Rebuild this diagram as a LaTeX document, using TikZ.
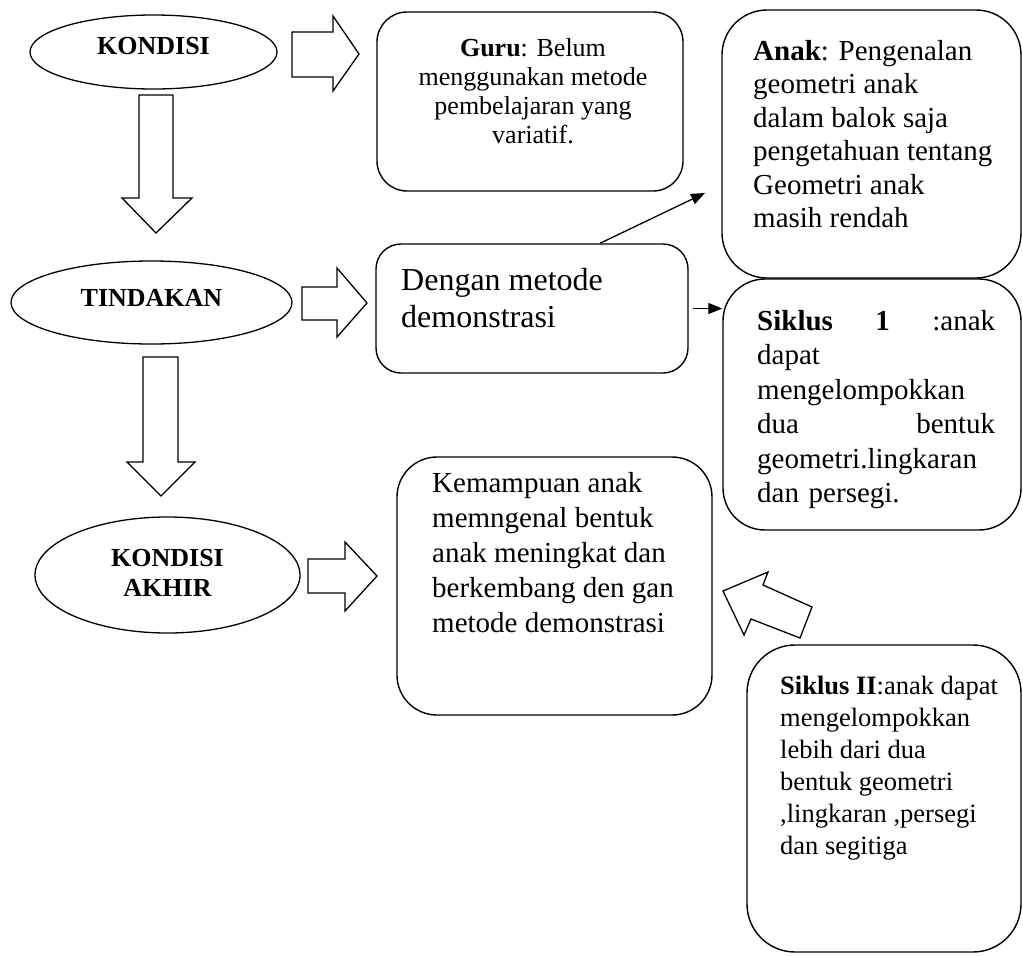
\documentclass[tikz,border=0pt]{standalone}
\usepackage{fontspec}
\setmainfont{Liberation Serif}
\usetikzlibrary{shapes.geometric,arrows.meta}
\tikzset{
  ell/.style={draw, ellipse, line width=1.3pt, inner sep=0pt},
  rbox/.style={draw, line width=1.4pt, inner sep=0pt},
  blk/.style={draw, line width=1.3pt, line join=miter, fill=white},
  thin/.style={line width=1.3pt, -{Triangle[length=14pt,width=11pt]}},
  lbl/.style={inner sep=0pt, font=\bfseries\fontsize{26}{30}\selectfont, align=center},
  txt/.style={inner sep=0pt, align=left, anchor=north west},
}
\begin{document}
\begin{tikzpicture}[x=1pt,y=-1pt]
\useasboundingbox (0,0) rectangle (1023,956);
% ellipses
\node[ell, minimum width=247pt, minimum height=74pt] (k1) at (153.5,52) {};
\node[lbl] (k1t) at (153.5,46) {KONDISI};
\node[ell, minimum width=281pt, minimum height=83pt] (tin) at (151.5,302.5) {};
\node[lbl] (tint) at (151.5,298) {TINDAKAN};
\node[ell, minimum width=265pt, minimum height=116pt] (k2) at (167.5,575) {};
\node[lbl] (k2t) at (167.5,573) {KONDISI\\AKHIR};
% block arrows
\draw[blk] (139,95)--(173,95)--(173,198)--(192,198)--(156,233)--(122,198)--(139,198)--cycle;
\draw[blk] (143,357)--(178,357)--(178,462)--(195,462)--(161,496)--(127,462)--(143,462)--cycle;
\draw[blk] (292,32)--(333,32)--(333,16)--(359,54)--(333,91)--(333,77)--(292,77)--cycle;
\draw[blk] (302,287)--(337,287)--(337,268)--(367,303)--(337,337)--(337,320)--(302,320)--cycle;
\draw[blk] (308,559)--(345,559)--(345,542)--(377,576)--(345,611)--(345,593)--(308,593)--cycle;
\draw[blk] (723,591)--(768,572)--(763,585)--(812,607)--(800,638)--(751,619)--(744,635)--cycle;
% boxes
\node[rbox, rounded corners=30pt, minimum width=306pt, minimum height=179pt] (guru) at (530,101.5) {};
\node[rbox, rounded corners=45pt, minimum width=299pt, minimum height=268pt] (anak) at (871.5,144) {};
\node[rbox, rounded corners=25pt, minimum width=312pt, minimum height=129pt] (deng) at (532,308.5) {};
\node[rbox, rounded corners=42pt, minimum width=298pt, minimum height=251pt] (sik1) at (872,404.5) {};
\node[rbox, rounded corners=40pt, minimum width=315pt, minimum height=258pt] (kem) at (554.5,586) {};
\node[rbox, rounded corners=48pt, minimum width=274pt, minimum height=307pt] (sik2) at (884,798.5) {};
% texts
\node[inner sep=0pt, align=center, anchor=north, font=\fontsize{26}{29}\selectfont] (gurut) at (533,38)
 {\textbf{Guru}: Belum\\menggunakan metode\\pembelajaran yang\\variatif.};
\node[txt, font=\fontsize{29}{33.5}\selectfont] (anakt) at (753,40)
 {\textbf{Anak}: Pengenalan\\geometri anak\\dalam balok saja\\pengetahuan tentang\\Geometri anak\\masih rendah};
\node[txt, font=\fontsize{32}{37}\selectfont] (dengt) at (401,268)
 {Dengan metode\\demonstrasi};
\node[txt, text width=238pt, font=\fontsize{29}{34.5}\selectfont] (sik1t) at (757,310)
 {\textbf{Siklus}\hspace{\fill}\textbf{1}\hspace{\fill}:anak\\dapat\\mengelompokkan\\dua\hspace{\fill}bentuk\\geometri.lingkaran\\dan persegi.};
\node[txt, font=\fontsize{29}{35}\selectfont] (kemt) at (432,472)
 {Kemampuan anak\\memngenal bentuk\\anak meningkat dan\\berkembang den gan\\metode demonstrasi};
\node[txt, font=\fontsize{26.5}{32}\selectfont] (sik2t) at (780,676)
 {\textbf{Siklus II}:anak dapat\\mengelompokkan\\lebih dari dua\\bentuk geometri\\,lingkaran ,persegi\\dan segitiga};
% thin arrows
\coordinate (a1) at (705,193);
\draw[thin] ([xshift=68pt]deng.north) -- (a1);
\draw[thin, shorten <=4pt] (deng.east) -- (deng.east -| sik1.west);
\end{tikzpicture}
\end{document}
